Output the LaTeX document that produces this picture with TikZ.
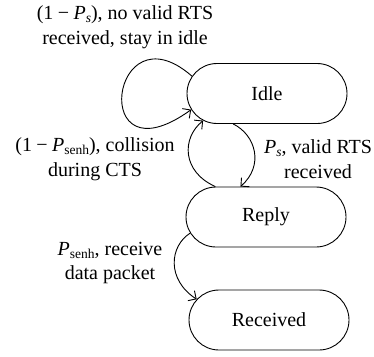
\documentclass[tikz,border=0pt]{standalone}
\usepackage{fontspec}
\setmainfont{Liberation Serif}
\usetikzlibrary{shapes.misc,arrows.meta}
% lowered, smaller subscript set in the text font
\newcommand{\subx}[1]{\raisebox{-0.35ex}{\fontsize{13.5}{13.5}\selectfont #1}}
\newcommand{\mns}{\kern0.22em−\kern0.22em}
\begin{document}
\begin{tikzpicture}[x=1pt,y=-1pt,
  state/.style={rounded rectangle, draw, line width=0.9pt,
    minimum width=160pt, minimum height=60pt, inner sep=0pt,
    font=\fontsize{20}{24}\selectfont},
  lbl/.style={align=center, inner sep=0pt, font=\fontsize{20}{24.5}\selectfont},
  edge/.style={line width=0.9pt, -{Straight Barb[length=6pt,width=12pt]}}]
\useasboundingbox (0,0) rectangle (374,356);

% states
\node[state] (idle)     at (267,93.5) {Idle};
\node[state] (reply)    at (266,217)  {Reply};
\node[state] (received) at (269,320)  {Received};

% transitions
\draw[edge] (idle.167) .. controls +(-81.7,-71.7) and +(-103.6,74.5) .. (idle.-168);
\draw[edge] (idle.-138) .. controls +(22.5,11) and +(24,-21) .. (reply.130);
\draw[edge] (reply.149) .. controls +(-33.5,-15) and +(-21.6,17.6) .. (idle.-157);
\draw[edge] (reply.-168) .. controls +(-20.5,13) and +(-30.5,-20) .. (received.164);

% transition labels
\node[lbl] (lstay) at (125,27) {(1\mns\textit{P}\subx{\textit{s}}), no valid RTS\\received, stay in idle};
\node[lbl] (lcoll) at (95,159) {(1\mns\textit{P}\subx{senh}), collision\\during CTS};
\node[lbl] (lvalid) at (318,159) {\textit{P}\subx{\textit{s}}, valid RTS\\received};
\node[lbl] (ldata) at (110,263) {\textit{P}\subx{senh}, receive\\data packet};
\end{tikzpicture}
\end{document}
